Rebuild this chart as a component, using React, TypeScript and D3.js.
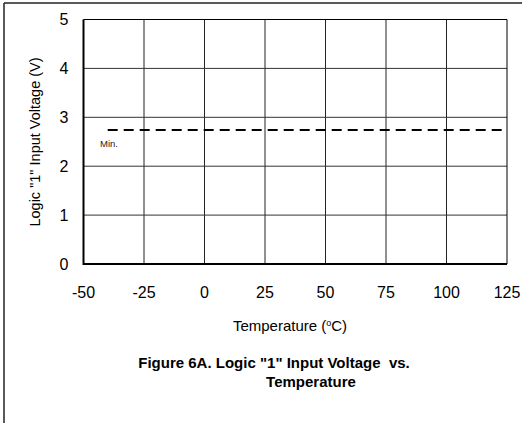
import * as d3 from 'd3';

const xTicks = [-50, -25, 0, 25, 50, 75, 100, 125];
const yTicks = [0, 1, 2, 3, 4, 5];
// minimum spec line: [temperature, voltage]
const minLine: [number, number][] = [
    [-40, 2.74],
    [125, 2.74]
];

const W = 522;
const H = 423;
const [left, top, right, bottom] = [83.5, 19.5, 507, 264];

export default function App() {
    const x = d3.scaleLinear().domain([-50, 125]).range([left, right]);
    const y = d3.scaleLinear().domain([0, 5]).range([bottom, top]);
    const line = d3
        .line<[number, number]>()
        .x((d) => x(d[0]))
        .y((d) => y(d[1]));
    const font = 'Arial, "Liberation Sans", sans-serif';

    return (
        <svg
            width={W}
            height={H}
            style={{ position: 'absolute', left: 0, top: 0, background: '#fff' }}
            fontFamily={font}
        >
            {/* outer frame, only top and left show */}
            <line x1={4} y1={3} x2={W} y2={3} stroke="#222" strokeWidth={1.5} />
            <line x1={4} y1={3} x2={4} y2={H} stroke="#222" strokeWidth={1.5} />

            {/* grid */}
            {xTicks.slice(1, -1).map((t) => (
                <line key={'gx' + t} x1={x(t)} x2={x(t)} y1={top} y2={bottom} stroke="#222" strokeWidth={1} />
            ))}
            {yTicks.slice(1, -1).map((t) => (
                <line key={'gy' + t} x1={left} x2={right} y1={y(t)} y2={y(t)} stroke="#333" strokeWidth={1} />
            ))}
            <line x1={left} x2={right} y1={top} y2={top} stroke="#000" strokeWidth={1} />
            <line x1={right} x2={right} y1={top} y2={bottom} stroke="#000" strokeWidth={1} />
            <line x1={left} x2={left} y1={top} y2={bottom + 1} stroke="#000" strokeWidth={2} />
            <line x1={left} x2={right} y1={bottom} y2={bottom} stroke="#000" strokeWidth={2} />

            {/* tick labels */}
            {yTicks.map((t) => (
                <text key={'ty' + t} x={64} y={y(t)} dy="0.36em" textAnchor="middle" fontSize={16}>
                    {t}
                </text>
            ))}
            {xTicks.map((t) => (
                <text key={'tx' + t} x={x(t)} y={292} dy="0.36em" textAnchor="middle" fontSize={16}>
                    {t}
                </text>
            ))}

            {/* min line */}
            <path d={line(minLine) ?? ''} fill="none" stroke="#000" strokeWidth={2} strokeDasharray="10 6" />
            <text x={100} y={y(minLine[0][1]) + 17} fontSize={9.5} fill="#222">
                Min.
            </text>

            {/* axis titles */}
            <text transform={`translate(40, 142) rotate(-90)`} textAnchor="middle" fontSize={14.5}>
                Logic "1" Input Voltage (V)
            </text>
            <text x={290} y={331} textAnchor="middle" fontSize={15}>
                Temperature (<tspan fontSize={9} dy={-5}>o</tspan>
                <tspan dy={5}>C)</tspan>
            </text>

            {/* caption */}
            <text x={274} y={368} textAnchor="middle" fontSize={15} fontWeight="bold">
                Figure 6A. Logic "1" Input Voltage{'\u00a0\u00a0'}vs.
            </text>
            <text x={311} y={387} textAnchor="middle" fontSize={15} fontWeight="bold">
                Temperature
            </text>
        </svg>
    );
}
